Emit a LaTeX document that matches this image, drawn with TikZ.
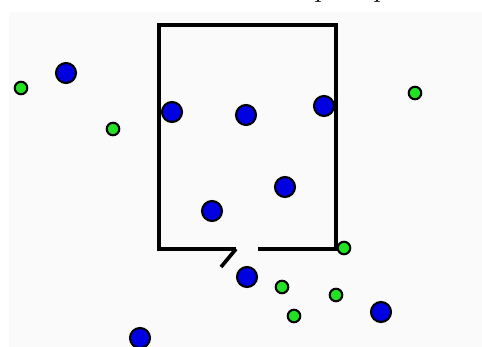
\documentclass[tikz,border=0pt]{standalone}
\usetikzlibrary{positioning}
\definecolor{dotblue}{RGB}{0,0,225}
\definecolor{dotgreen}{RGB}{35,225,35}
\definecolor{paper}{RGB}{250,250,250}

\begin{document}
\begin{tikzpicture}[
      x=0.02cm, y=-0.02cm,
      wall/.style={draw=black, line width=2.1pt},
      bigdot/.style={circle, draw=black, fill=dotblue, line width=1.2pt, minimum size=0.40cm, inner sep=0pt},
      smalldot/.style={circle, draw=black, fill=dotgreen, line width=1.2pt, minimum size=0.25cm, inner sep=0pt},
      cut/.style={anchor=base west, inner sep=0pt, font=\fontsize{17pt}{20pt}\selectfont}
  ]
      \clip (0,0) rectangle (482,347);
      \fill[paper] (9,12) rectangle (482,347);

      % TITLE (cut off)
      \node[cut] (tp1) at (314,-3) {p};
      \node[cut] (tp2) at (373,-3) {p};

      % ROOM
      \coordinate (doorL) at (236,249);
      \coordinate (doorR) at (258,249);
      \coordinate (leaf) at (221,267);
      \draw[wall] (doorL) -- (159,249) -- (159,25) -- (336,25) -- (336,249) -- (doorR);
      \draw[wall] (doorL) -- (leaf);

      % BLUE DOTS
      \node[bigdot] (b1) at (66,73) {};
      \node[bigdot] (b2) at (172,112) {};
      \node[bigdot] (b3) at (246,115) {};
      \node[bigdot] (b4) at (324,106) {};
      \node[bigdot] (b5) at (285,187) {};
      \node[bigdot] (b6) at (212,211) {};
      \node[bigdot] (b7) at (247,277) {};
      \node[bigdot] (b8) at (381,312) {};
      \node[bigdot] (b9) at (140,338) {};

      % GREEN DOTS
      \node[smalldot] (g1) at (21,88) {};
      \node[smalldot] (g2) at (113,129) {};
      \node[smalldot] (g3) at (415,93) {};
      \node[smalldot] (g4) at (344,248) {};
      \node[smalldot] (g5) at (282,287) {};
      \node[smalldot] (g6) at (336,295) {};
      \node[smalldot] (g7) at (294,316) {};
  \end{tikzpicture}
\end{document}
